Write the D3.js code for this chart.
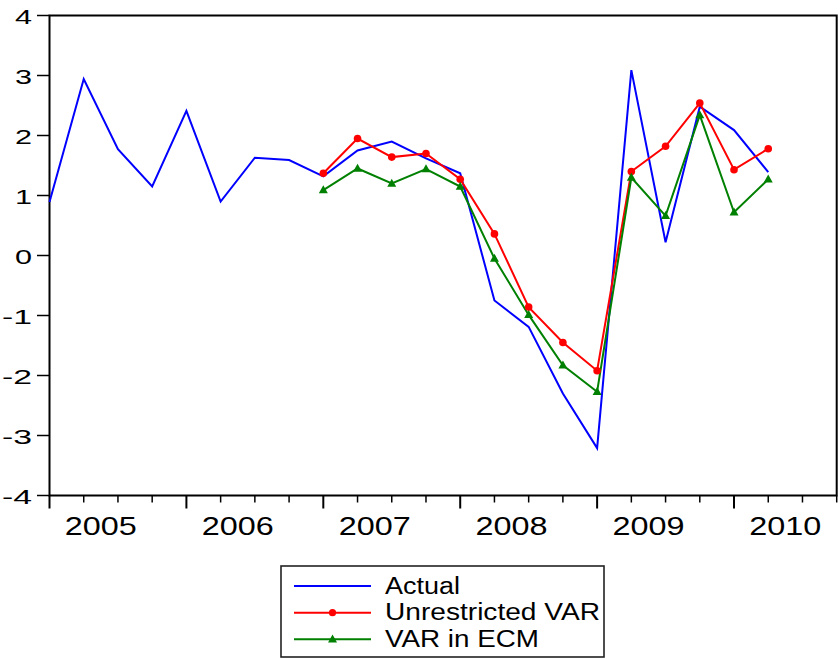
<!DOCTYPE html>
<html>
<head>
<meta charset="utf-8">
<script src="https://cdn.jsdelivr.net/npm/d3@7"></script>
<style>
  html, body { margin: 0; padding: 0; background: #fff; }
  svg { display: block; }
  text { font-family: "Liberation Sans", Arial, Helvetica, sans-serif; fill: #000; }
</style>
</head>
<body>
<svg id="chart" width="840" height="659"></svg>
<script>
// ---------- data ----------
const periods = ["2005Q1","2005Q2","2005Q3","2005Q4","2006Q1","2006Q2","2006Q3","2006Q4",
                 "2007Q1","2007Q2","2007Q3","2007Q4","2008Q1","2008Q2","2008Q3","2008Q4",
                 "2009Q1","2009Q2","2009Q3","2009Q4","2010Q1","2010Q2","2010Q3","2010Q4"];
const years = ["2005","2006","2007","2008","2009","2010"];
const yTicks = [-4,-3,-2,-1,0,1,2,3,4];
const actual = [0.89, 2.94, 1.77, 1.15, 2.41, 0.90, 1.63, 1.59, 1.32, 1.75, 1.90, 1.62,
                1.37, -0.75, -1.19, -2.30, -3.21, 3.09, 0.22, 2.48, 2.09, 1.39, null, null];
const unrestrictedVAR = [null, null, null, null, null, null, null, null,
                1.37, 1.95, 1.64, 1.70, 1.27, 0.36, -0.86, -1.45, -1.92, 1.40, 1.82, 2.54, 1.43, 1.78, null, null];
const varInECM = [null, null, null, null, null, null, null, null,
                1.09, 1.45, 1.20, 1.44, 1.15, -0.05, -0.99, -1.83, -2.27, 1.30, 0.66, 2.34, 0.72, 1.27, null, null];
const seriesNames = ["Actual", "Unrestricted VAR", "VAR in ECM"];
const seriesColors = ["#0000ff", "#ff0000", "#008000"];

// ---------- layout ----------
const svg = d3.select("#chart");
const L = 49.5, R = 836.7, T = 15.5, B = 495.5;

const x = d3.scalePoint().domain(periods).range([L, R]);
const y = d3.scaleLinear().domain([-4, 4]).range([B, T]);

// frame
svg.append("rect").attr("x", L).attr("y", T).attr("width", R - L).attr("height", B - T)
  .attr("fill", "none").attr("stroke", "#000").attr("stroke-width", 2);

// y axis ticks & labels
const yAxis = svg.append("g");
yTicks.forEach(v => {
  yAxis.append("line").attr("x1", 37).attr("x2", L).attr("y1", y(v)).attr("y2", y(v))
    .attr("stroke", "#000").attr("stroke-width", 1.5);
  const s = String(v).replace("-", "-");
  yAxis.append("text").attr("x", 32).attr("y", y(v) + 8)
    .attr("text-anchor", "end").attr("font-size", 20)
    .attr("textLength", v < 0 ? 30 : 17).attr("lengthAdjust", "spacingAndGlyphs")
    .text(s);
});

// x axis ticks
const xAxis = svg.append("g");
periods.forEach((p, i) => {
  const major = p.endsWith("Q1");
  xAxis.append("line").attr("x1", x(p)).attr("x2", x(p)).attr("y1", B)
    .attr("y2", major ? B + 13 : B + 7).attr("stroke", "#000").attr("stroke-width", major ? 2 : 1.5);
});
years.forEach(yr => {
  const qs = periods.filter(p => p.startsWith(yr));
  const cx = (x(qs[0]) + x(qs[qs.length - 1])) / 2;
  xAxis.append("text").attr("x", cx).attr("y", 535).attr("text-anchor", "middle")
    .attr("font-size", 26).attr("textLength", 72).attr("lengthAdjust", "spacingAndGlyphs")
    .text(yr);
});

// lines
const allSeries = [actual, unrestrictedVAR, varInECM];
const line = d3.line()
  .defined(d => d.v !== null)
  .x(d => x(d.p)).y(d => y(d.v));

allSeries.forEach((vals, k) => {
  const pts = periods.map((p, i) => ({ p, v: vals[i] }));
  svg.append("path").datum(pts).attr("d", line)
    .attr("fill", "none").attr("stroke", seriesColors[k]).attr("stroke-width", 2)
    .attr("stroke-linejoin", "miter");
});

function triPath(cx, cy) {
  const w = 9, h = 8;
  return `M${cx},${cy - h * 0.6}L${cx + w / 2},${cy + h * 0.4}L${cx - w / 2},${cy + h * 0.4}Z`;
}

// markers
const redPts = periods.map((p, i) => ({ p, v: unrestrictedVAR[i] })).filter(d => d.v !== null);
svg.append("g").selectAll("circle").data(redPts).join("circle")
  .attr("cx", d => x(d.p)).attr("cy", d => y(d.v)).attr("r", 3.8).attr("fill", seriesColors[1]);

const grnPts = periods.map((p, i) => ({ p, v: varInECM[i] })).filter(d => d.v !== null);
svg.append("g").selectAll("path").data(grnPts).join("path")
  .attr("d", d => triPath(x(d.p), y(d.v))).attr("fill", seriesColors[2]);

// legend
const lg = svg.append("g");
lg.append("rect").attr("x", 281).attr("y", 566).attr("width", 323).attr("height", 91)
  .attr("fill", "#fff").attr("stroke", "#222").attr("stroke-width", 1.6);
const rowY = [586, 612.7, 639.3];
const textW = [75, 215, 154];
seriesNames.forEach((name, k) => {
  lg.append("line").attr("x1", 294).attr("x2", 371).attr("y1", rowY[k]).attr("y2", rowY[k])
    .attr("stroke", seriesColors[k]).attr("stroke-width", 2);
  if (k === 1) lg.append("circle").attr("cx", 332.5).attr("cy", rowY[k]).attr("r", 3.6).attr("fill", seriesColors[1]);
  if (k === 2) lg.append("path").attr("d", triPath(332.5, rowY[k])).attr("fill", seriesColors[2]);
  lg.append("text").attr("x", 385).attr("y", rowY[k] + 7.5).attr("font-size", 23)
    .attr("textLength", textW[k]).attr("lengthAdjust", "spacingAndGlyphs").text(name);
});
</script>
</body>
</html>
